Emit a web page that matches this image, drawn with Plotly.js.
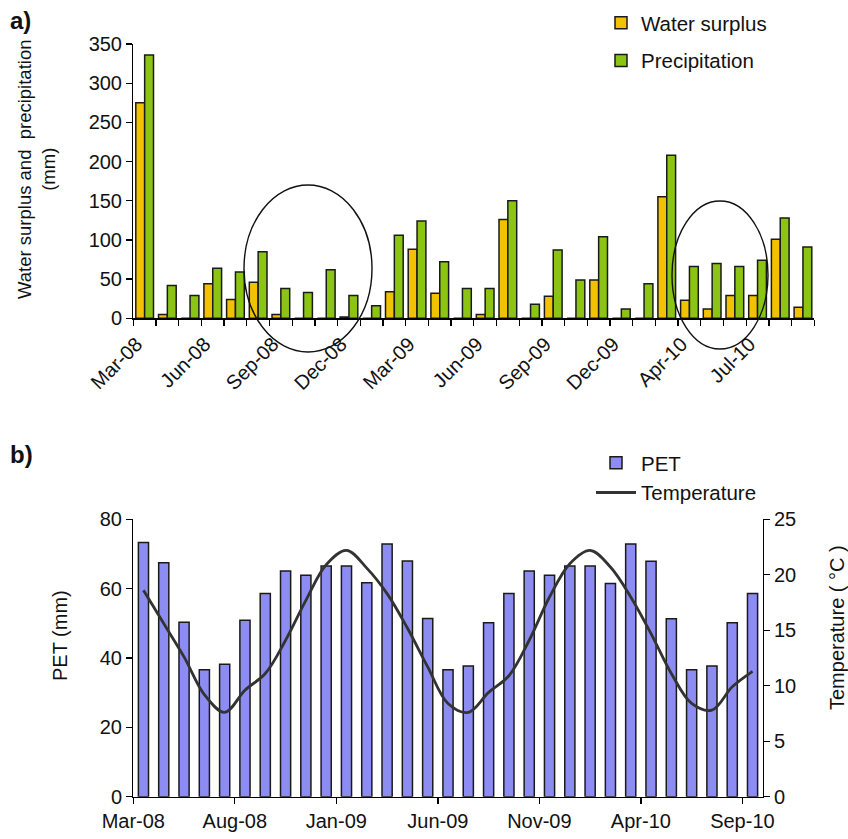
<!DOCTYPE html>
<html>
<head>
<meta charset="utf-8">
<script src="https://cdn.plot.ly/plotly-3.0.1.min.js"></script>
<style>
  html, body { margin: 0; padding: 0; background: #ffffff; }
  #chart { width: 848px; height: 839px; }
</style>
</head>
<body>
<div id="chart"></div>
<script>
// ---- Panel a) data ----
var months = ['Mar-08','Apr-08','May-08','Jun-08','Jul-08','Aug-08','Sep-08','Oct-08','Nov-08','Dec-08',
              'Jan-09','Feb-09','Mar-09','Apr-09','May-09','Jun-09','Jul-09','Aug-09','Sep-09','Oct-09',
              'Nov-09','Dec-09','Jan-10','Feb-10','Apr-10','May-10','Jun-10','Jul-10','Aug-10','Sep-10'];
var waterSurplus = [275, 5, 0, 44, 24, 46, 5, 0, 0, 1.7,
                    0, 34, 88, 32, 0, 5, 126, 0, 28, 0,
                    49, 0, 0, 155, 23, 12, 29, 29, 101, 14];
var precipitation = [336, 42, 29, 64, 59, 85, 38, 33, 62, 29,
                     16, 106, 124, 72, 38, 38, 150, 18, 87, 49,
                     104, 12, 44, 208, 66, 70, 66, 74, 128, 91];
var topTickLabels = ['Mar-08','Jun-08','Sep-08','Dec-08','Mar-09','Jun-09','Sep-09','Dec-09','Apr-10','Jul-10'];

// ---- Panel b) data ----
var petMonths = ['Mar-08','Apr-08','May-08','Jun-08','Jul-08','Aug-08','Sep-08','Oct-08','Nov-08','Dec-08',
                 'Jan-09','Feb-09','Mar-09','Apr-09','May-09','Jun-09','Jul-09','Aug-09','Sep-09','Oct-09',
                 'Nov-09','Dec-09','Jan-10','Feb-10','Mar-10','Apr-10','May-10','Jun-10','Jul-10','Aug-10','Sep-10'];
var pet = [73.3, 67.5, 50.3, 36.6, 38.2, 50.9, 58.6, 65.1, 63.9, 66.5,
           66.5, 61.7, 72.9, 68.0, 51.4, 36.6, 37.7, 50.2, 58.6, 65.1,
           63.9, 66.5, 66.5, 61.5, 72.9, 67.9, 51.3, 36.6, 37.7, 50.2, 58.6];
var temperature = [18.6, 15.6, 12.6, 9.2, 7.6, 9.6, 11.1, 14.1, 17.7, 20.9,
                   22.2, 20.6, 18.3, 15.2, 11.7, 8.4, 7.6, 9.4, 10.9, 14.1,
                   18.0, 21.0, 22.2, 20.7, 18.0, 14.7, 11.1, 8.4, 7.8, 9.9, 11.3];
var bottomTickLabels = ['Mar-08','Aug-08','Jan-09','Jun-09','Nov-09','Apr-10','Sep-10'];

var idxA = months.map(function (m, i) { return i; });
var idxB = petMonths.map(function (m, i) { return i; });
var topTickVals = topTickLabels.map(function (l) { return months.indexOf(l); });
var bottomTickVals = bottomTickLabels.map(function (l) { return petMonths.indexOf(l) - 0.5; });

var FONT = 'Arial, "Liberation Sans", sans-serif';
var W = 848, H = 839;
function px(x) { return x / W; }
function py(y) { return 1 - y / H; }

var traces = [
  { type: 'bar', name: 'Water surplus', x: idxA, y: waterSurplus, xaxis: 'x', yaxis: 'y',
    marker: { color: '#F2C200', line: { color: '#1a1a1a', width: 1.5 } },
    legend: 'legend', legendgroup: 'ws' },
  { type: 'bar', name: 'Precipitation', x: idxA, y: precipitation, xaxis: 'x', yaxis: 'y',
    marker: { color: '#8CC414', line: { color: '#1a1a1a', width: 1.5 } },
    legend: 'legend', legendgroup: 'pr' },
  { type: 'bar', name: 'PET', x: idxB, y: pet, xaxis: 'x2', yaxis: 'y2', width: 0.5,
    marker: { color: '#8C8CF2', line: { color: '#1a1a1a', width: 1.5 } },
    legend: 'legend2', legendgroup: 'pet' },
  { type: 'scatter', mode: 'lines', name: 'Temperature', x: idxB, y: temperature, xaxis: 'x2', yaxis: 'y3',
    line: { color: '#333333', width: 2.8, shape: 'spline', smoothing: 1 },
    legend: 'legend2', legendgroup: 'temp' }
];

var axisCommon = {
  showline: true, linecolor: '#000', linewidth: 1.3, mirror: false,
  showgrid: false, zeroline: false, ticks: 'outside', ticklen: 6, tickwidth: 1.3, tickcolor: '#000',
  tickfont: { family: FONT, size: 20, color: '#111' }, fixedrange: true
};

var layout = {
  width: W, height: H,
  margin: { l: 0, r: 0, t: 0, b: 0 },
  paper_bgcolor: '#fff', plot_bgcolor: '#fff',
  font: { family: FONT, color: '#111' },
  barmode: 'group', bargap: 0.22, bargroupgap: 0,
  xaxis: Object.assign({}, axisCommon, {
    domain: [px(133.3), px(814.3)], anchor: 'y', range: [-0.5, months.length - 0.5],
    tickmode: 'array', tickvals: topTickVals, ticktext: topTickLabels, ticks: '',
    tickangle: -45, ticklabelstandoff: 5, ticklabelshift: -8,
    minor: { tickmode: 'linear', tick0: -0.5, dtick: 1, ticks: 'outside', ticklen: 6, tickwidth: 1.3, tickcolor: '#000', showgrid: false }
  }),
  yaxis: Object.assign({}, axisCommon, {
    domain: [py(318.3), py(44)], anchor: 'x', range: [0, 350], dtick: 50, tick0: 0
  }),
  xaxis2: Object.assign({}, axisCommon, {
    domain: [px(133.3), px(762.7)], anchor: 'y2', range: [-0.5, petMonths.length - 0.5],
    tickmode: 'array', tickvals: bottomTickVals, ticktext: bottomTickLabels, tickangle: 0
  }),
  yaxis2: Object.assign({}, axisCommon, {
    domain: [py(796.7), py(519.3)], anchor: 'x2', range: [0, 80], dtick: 20, tick0: 0
  }),
  yaxis3: Object.assign({}, axisCommon, {
    overlaying: 'y2', side: 'right', anchor: 'x2', range: [0, 25], dtick: 5, tick0: 0
  }),
  legend: {
    x: px(601), y: py(3), xanchor: 'left', yanchor: 'top',
    bgcolor: 'rgba(0,0,0,0)', font: { family: FONT, size: 20.5, color: '#111' },
    traceorder: 'grouped', tracegroupgap: 8, itemwidth: 30
  },
  legend2: {
    x: px(591), y: py(443), xanchor: 'left', yanchor: 'top',
    bgcolor: 'rgba(0,0,0,0)', font: { family: FONT, size: 20.5, color: '#111' },
    traceorder: 'grouped', tracegroupgap: 0, itemwidth: 40
  },
  shapes: [
    { type: 'circle', xref: 'paper', yref: 'paper', x0: px(244), x1: px(372), y0: py(352), y1: py(185),
      line: { color: '#111', width: 1.4 }, fillcolor: 'rgba(0,0,0,0)', layer: 'above' },
    { type: 'circle', xref: 'paper', yref: 'paper', x0: px(672), x1: px(768), y0: py(349), y1: py(201),
      line: { color: '#111', width: 1.4 }, fillcolor: 'rgba(0,0,0,0)', layer: 'above' }
  ],
  annotations: [
    { text: '<b>a)</b>', xref: 'paper', yref: 'paper', x: px(8), y: py(21), xanchor: 'left', yanchor: 'middle',
      showarrow: false, font: { family: FONT, size: 24, color: '#111' } },
    { text: '<b>b)</b>', xref: 'paper', yref: 'paper', x: px(8), y: py(454), xanchor: 'left', yanchor: 'middle',
      showarrow: false, font: { family: FONT, size: 24, color: '#111' } },
    { text: 'Water surplus and  precipitation<br>(mm)', xref: 'paper', yref: 'paper', x: px(36), y: py(170),
      xanchor: 'center', yanchor: 'middle', textangle: -90, showarrow: false,
      font: { family: FONT, size: 18.5, color: '#111' } },
    { text: 'PET (mm)', xref: 'paper', yref: 'paper', x: px(60), y: py(636),
      xanchor: 'center', yanchor: 'middle', textangle: -90, showarrow: false,
      font: { family: FONT, size: 20, color: '#111' } },
    { text: 'Temperature ( °C )', xref: 'paper', yref: 'paper', x: px(837), y: py(628),
      xanchor: 'center', yanchor: 'middle', textangle: -90, showarrow: false,
      font: { family: FONT, size: 20, color: '#111' } }
  ]
};

Plotly.newPlot('chart', traces, layout, { displayModeBar: false, staticPlot: true });
</script>
</body>
</html>
